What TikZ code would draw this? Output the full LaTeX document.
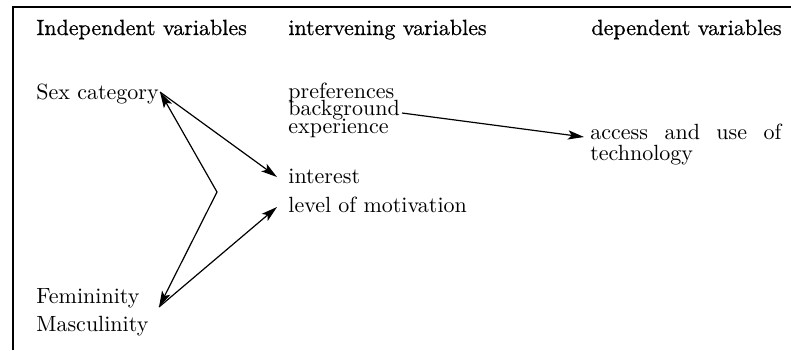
\documentclass[tikz,border=0pt]{standalone}
\usepackage{fontspec}
\setmainfont{lmroman10-regular}[Extension=.otf]
\usetikzlibrary{arrows.meta}

\begin{document}
\begin{tikzpicture}[x=0.5pt, y=-0.5pt,
	txt/.style={anchor=base west, inner sep=0pt, font=\fontsize{11}{13}\selectfont},
	head/.style={txt, font=\fontsize{11}{13}\selectfont\addfontfeature{FakeBold=0.6}},
	link/.style={line width=0.6pt, -{Stealth[length=8pt, width=4.6pt, inset=1.8pt]}},
	link2/.style={link, {Stealth[length=8pt, width=4.6pt, inset=1.8pt]}-{Stealth[length=8pt, width=4.6pt, inset=1.8pt]}}]
	\useasboundingbox (0, 0) rectangle (791, 350); % Explicit bounding box
	\draw [line width=1.2pt] (13, 350) -- (13, 7) -- (791, 7);
	% column headings
	\node [head] (indep) at (36, 35) {Independent variables};
	\node [head] (interv) at (288, 35) {intervening variables};
	\node [head] (depend) at (591, 35) {dependent variables};
	% variables
	\node [txt] (sex) at (36, 99) {Sex category};
	\node [txt] (femin) at (36, 303) {Femininity};
	\node [txt] (mascu) at (36, 331) {Masculinity};
	\node [txt, align=left, font=\fontsize{11}{8.75}\selectfont\setlength{\lineskiplimit}{-20pt}] (pref) at (288, 133)
		{preferences\\background\\experience};
	\node [txt] (inter) at (288, 183) {interest};
	\node [txt] (motiv) at (288, 212) {level of motivation};
	\node [txt] (access) at (590, 139) {\makebox[95.5pt][s]{access and use of}};
	\node [txt] (techno) at (590, 160) {technology};
	% arrow ends
	\coordinate (sexpt) at (160, 92);
	\coordinate (fork) at (217, 192);
	\coordinate (feminpt) at (159, 307);
	\coordinate (interpt) at (277, 177);
	\coordinate (motivpt) at (277, 207);
	\coordinate (backgpt) at (402, 113);
	\coordinate (accesspt) at (584, 137);
	\draw [link2] (sexpt) -- (fork) -- (feminpt);
	\draw [link] (sexpt) -- (interpt);
	\draw [link] (feminpt) -- (motivpt);
	\draw [link] (backgpt) -- (accesspt);
\end{tikzpicture}
\end{document}
